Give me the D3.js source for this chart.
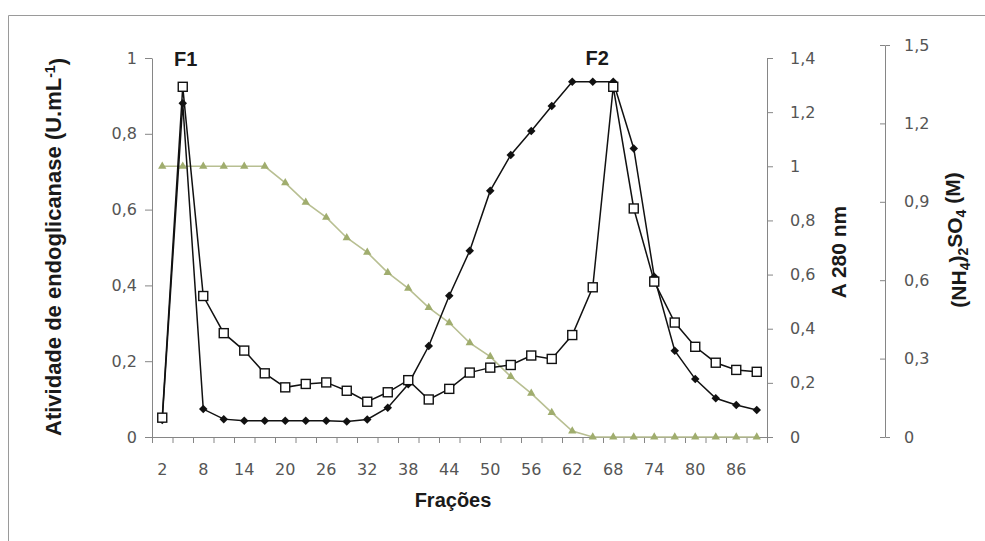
<!DOCTYPE html>
<html>
<head>
<meta charset="utf-8">
<script src="https://cdn.jsdelivr.net/npm/d3@7"></script>
<style>
  body { margin: 0; background: #fff; }
  svg { display: block; }
</style>
</head>
<body>
<svg id="chart" width="985" height="541"></svg>
<script>
// Fractions collected (x categories)
const fractions = [2,5,8,11,14,17,20,23,26,29,32,35,38,41,44,47,50,53,56,59,62,65,68,71,74,77,80,83,86,89];
// Endoglucanase activity (U.mL-1), open squares, left axis
const activity = [0.051,0.924,0.372,0.274,0.228,0.168,0.131,0.140,0.144,0.122,0.093,0.118,0.150,0.099,0.127,0.170,0.183,0.190,0.215,0.206,0.269,0.395,0.924,0.603,0.410,0.302,0.238,0.196,0.177,0.172];
// Absorbance at 280 nm, filled diamonds, right axis
const a280 = [0.063,1.233,0.103,0.066,0.060,0.060,0.060,0.060,0.060,0.057,0.065,0.108,0.195,0.336,0.522,0.688,0.910,1.042,1.130,1.223,1.312,1.312,1.312,1.066,0.592,0.319,0.214,0.143,0.118,0.100];
// (NH4)2SO4 gradient (M), triangles
const salt = [1,1,1,1,1,1,0.939,0.867,0.811,0.736,0.682,0.607,0.549,0.478,0.422,0.348,0.297,0.223,0.161,0.090,0.022,0,0,0,0,0,0,0,0,0];
// Axis tick values
const leftTicks = [0,0.2,0.4,0.6,0.8,1];
const a280Ticks = [0,0.2,0.4,0.6,0.8,1,1.2,1.4];
const saltTicks = [0,0.3,0.6,0.9,1.2,1.5];
const xLabelTicks = [2,8,14,20,26,32,38,44,50,56,62,68,74,80,86];

const svg = d3.select("#chart");
const W = 985, H = 541;
const plot = { left: 152, right: 767, top: 58, bottom: 437 };

const fmt = d => String(+d.toFixed(1)).replace(".", ",");
const axisColor = "#868686";
const tickFont = "DejaVu Sans, Verdana, sans-serif";
const titleFont = "Liberation Sans, Arial, sans-serif";

svg.append("rect").attr("width", W).attr("height", H).attr("fill", "#fff");

// frame of the chart area
svg.append("path")
  .attr("d", `M8.5,${H} V15.5 H${W}`)
  .attr("fill", "none").attr("stroke", "#9a9a9a").attr("stroke-width", 1);

const x = d3.scaleBand().domain(fractions).range([plot.left, plot.right]).padding(0);
const cx = d => x(d) + x.bandwidth() / 2;
const yLeft = d3.scaleLinear().domain([0, 1]).range([plot.bottom, plot.top]);
const yA280 = d3.scaleLinear().domain([0, 1.4]).range([plot.bottom, plot.top]);
const ySalt = d3.scaleLinear().domain([0, 1.5]).range([plot.bottom, 45]);

function styleAxis(g) {
  g.selectAll("path, line").attr("stroke", axisColor);
  g.selectAll("text").attr("fill", "#555").style("font-family", tickFont).style("font-size", "16px");
}

// x axis: tick marks at every category boundary
const xIdx = d3.scaleLinear().domain([0, fractions.length]).range([plot.left, plot.right]);
svg.append("g")
  .attr("transform", `translate(0,${plot.bottom})`)
  .call(d3.axisBottom(xIdx).tickValues(d3.range(fractions.length + 1)).tickFormat("").tickSize(6).tickSizeOuter(0))
  .call(styleAxis);
// x labels on every other fraction
svg.append("g")
  .attr("transform", `translate(0,${plot.bottom})`)
  .call(d3.axisBottom(x).tickValues(xLabelTicks).tickSize(0).tickPadding(27))
  .call(g => g.select(".domain").remove())
  .call(styleAxis);

// left axis
svg.append("g")
  .attr("transform", `translate(${plot.left},0)`)
  .call(d3.axisLeft(yLeft).tickValues(leftTicks).tickFormat(fmt).tickSize(7).tickSizeOuter(0).tickPadding(8))
  .call(styleAxis);

// A 280 nm axis
svg.append("g")
  .attr("transform", `translate(${plot.right},0)`)
  .call(d3.axisRight(yA280).tickValues(a280Ticks).tickFormat(fmt).tickSize(6).tickSizeOuter(0).tickPadding(17))
  .call(styleAxis);

// (NH4)2SO4 axis
svg.append("g")
  .attr("transform", `translate(885,0)`)
  .call(d3.axisRight(ySalt).tickValues(saltTicks).tickFormat(fmt).tickSizeInner(-5).tickSizeOuter(5).tickPadding(19))
  .call(styleAxis);

// salt gradient line with triangles
const saltLine = d3.line().x((d, i) => cx(fractions[i])).y(d => yA280(d));
svg.append("path").datum(salt)
  .attr("d", saltLine).attr("fill", "none").attr("stroke", "#b8bf92").attr("stroke-width", 1.6);
svg.append("g").selectAll("path").data(salt).join("path")
  .attr("d", d3.symbol(d3.symbolTriangle, 30))
  .attr("transform", (d, i) => `translate(${cx(fractions[i])},${yA280(d)})`)
  .attr("fill", "#a0ad6e");

// activity line with open squares
const actLine = d3.line().x((d, i) => cx(fractions[i])).y(d => yLeft(d));
svg.append("path").datum(activity)
  .attr("d", actLine).attr("fill", "none").attr("stroke", "#111").attr("stroke-width", 1.5);

// A280 line with filled diamonds
const absLine = d3.line().x((d, i) => cx(fractions[i])).y(d => yA280(d));
svg.append("path").datum(a280)
  .attr("d", absLine).attr("fill", "none").attr("stroke", "#111").attr("stroke-width", 1.5);
svg.append("g").selectAll("rect").data(a280).join("rect")
  .attr("x", -3).attr("y", -3).attr("width", 6).attr("height", 6)
  .attr("transform", (d, i) => `translate(${cx(fractions[i])},${yA280(d)}) rotate(45)`)
  .attr("fill", "#111");

svg.append("g").selectAll("rect").data(activity).join("rect")
  .attr("x", -4.5).attr("y", -4.5).attr("width", 9).attr("height", 9)
  .attr("transform", (d, i) => `translate(${cx(fractions[i])},${yLeft(d)})`)
  .attr("fill", "#fff").attr("stroke", "#111").attr("stroke-width", 1.4);

// peak labels
svg.append("text").attr("x", cx(5) + 3).attr("y", 66).attr("text-anchor", "middle")
  .style("font-family", titleFont).style("font-weight", "bold").style("font-size", "20px").attr("fill", "#1a1a1a").text("F1");
svg.append("text").attr("x", cx(68) - 16).attr("y", 65).attr("text-anchor", "middle")
  .style("font-family", titleFont).style("font-weight", "bold").style("font-size", "20px").attr("fill", "#1a1a1a").text("F2");

// axis titles
const yTitle = svg.append("text")
  .attr("transform", "translate(61,247) rotate(-90)").attr("text-anchor", "middle")
  .style("font-family", titleFont).style("font-weight", "bold").style("font-size", "22px").attr("fill", "#1a1a1a");
yTitle.append("tspan").text("Atividade de endoglicanase (U.mL");
yTitle.append("tspan").attr("dy", "-0.45em").style("font-size", "14px").text("-1");
yTitle.append("tspan").attr("dy", "0.45em").text(")");

svg.append("text")
  .attr("transform", "translate(846,252) rotate(-90)").attr("text-anchor", "middle")
  .style("font-family", titleFont).style("font-weight", "bold").style("font-size", "21px").attr("fill", "#1a1a1a")
  .text("A 280 nm");

const sTitle = svg.append("text")
  .attr("transform", "translate(966,240) rotate(-90)").attr("text-anchor", "middle")
  .style("font-family", titleFont).style("font-weight", "bold").style("font-size", "21px").attr("fill", "#1a1a1a");
sTitle.append("tspan").text("(NH");
sTitle.append("tspan").attr("dy", "0.3em").style("font-size", "14px").text("4");
sTitle.append("tspan").attr("dy", "-0.3em").text(")");
sTitle.append("tspan").attr("dy", "0.3em").style("font-size", "14px").text("2");
sTitle.append("tspan").attr("dy", "-0.3em").text("SO");
sTitle.append("tspan").attr("dy", "0.3em").style("font-size", "14px").text("4");
sTitle.append("tspan").attr("dy", "-0.3em").text(" (M)");

svg.append("text").attr("x", 453).attr("y", 507).attr("text-anchor", "middle")
  .style("font-family", titleFont).style("font-weight", "bold").style("font-size", "20px").attr("fill", "#1a1a1a")
  .text("Frações");
</script>
</body>
</html>
